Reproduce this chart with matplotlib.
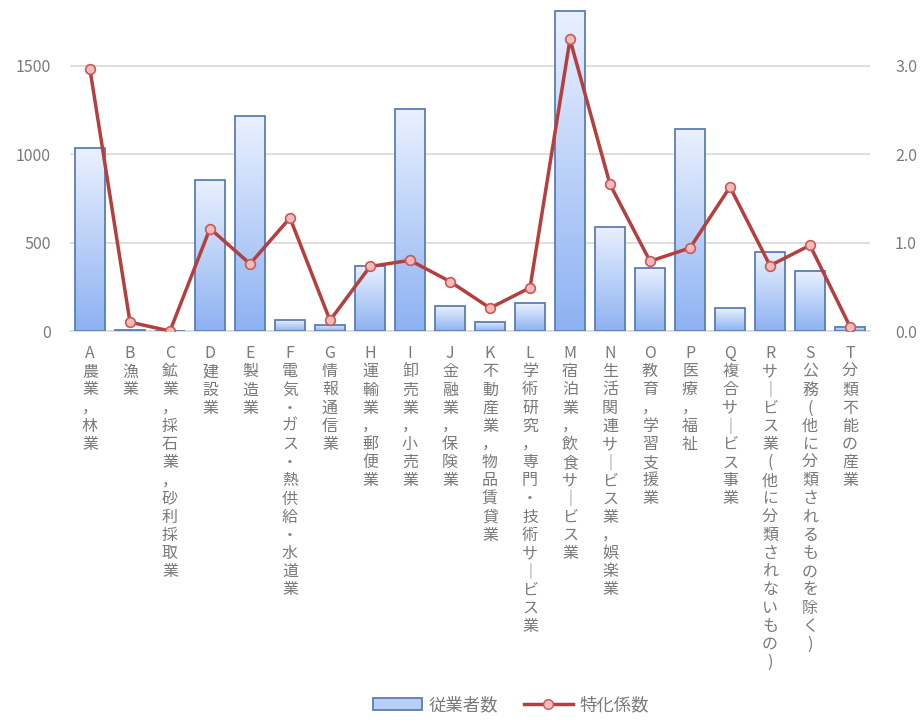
import matplotlib.pyplot as plt
import numpy as np
from matplotlib.colors import LinearSegmentedColormap
from matplotlib.lines import Line2D
from matplotlib.patches import Patch

plt.rcParams['font.family'] = ['Noto Sans CJK JP', 'DejaVu Sans']

# --- datos ---
letters = ['A', 'B', 'C', 'D', 'E', 'F', 'G', 'H', 'I', 'J',
           'K', 'L', 'M', 'N', 'O', 'P', 'Q', 'R', 'S', 'T']
industries = [
    '農業，林業', '漁業', '鉱業，採石業，砂利採取業', '建設業', '製造業',
    '電気・ガス・熱供給・水道業', '情報通信業', '運輸業，郵便業', '卸売業，小売業',
    '金融業，保険業', '不動産業，物品賃貸業', '学術研究，専門・技術サービス業',
    '宿泊業，飲食サービス業', '生活関連サービス業，娯楽業', '教育，学習支援業',
    '医療，福祉', '複合サービス事業', 'サービス業(他に分類されないもの)',
    '公務(他に分類されるものを除く)', '分類不能の産業',
]
workers = [1035, 5, 0, 855, 1215, 62, 35, 368, 1255, 141,
           51, 158, 1810, 589, 357, 1143, 130, 447, 340, 25]
coef = [2.96, 0.10, 0.00, 1.16, 0.76, 1.28, 0.12, 0.73, 0.80, 0.56,
        0.26, 0.49, 3.30, 1.66, 0.79, 0.94, 1.63, 0.74, 0.97, 0.05]

x = np.arange(len(letters))
grey = '#7a7a7a'

fig = plt.figure(figsize=(9.21, 7.26), dpi=100)
ax = fig.add_axes([70 / 921, 1 - 331 / 726, 800 / 921, 331 / 726])

# barras con degradado
cmap = LinearSegmentedColormap.from_list('g', ['#8db2f2', '#eaf1ff'])
grad = np.linspace(0, 1, 256).reshape(-1, 1)
bars = ax.bar(x, workers, width=0.74, facecolor='none',
              edgecolor='#5b7db5', linewidth=1.3, zorder=3)
for b in bars:
    h = b.get_height()
    if h <= 0:
        continue
    x0 = b.get_x()
    im = ax.imshow(grad, extent=[x0, x0 + b.get_width(), 0, h], origin='lower',
                   aspect='auto', cmap=cmap, zorder=2)
    im.set_clip_path(b)

ax.set_xlim(-0.5, 19.5)
ax.set_ylim(0, 1873)
ax.set_yticks([0, 500, 1000, 1500])
ax.grid(axis='y', color='#d9d9d9', linewidth=1.2, zorder=0)
for s in ['top', 'right', 'left']:
    ax.spines[s].set_visible(False)
ax.spines['bottom'].set_color('#d9d9d9')
ax.spines['bottom'].set_linewidth(1.2)
ax.tick_params(axis='y', length=0, pad=14, labelsize=11.5, labelcolor=grey)
ax.tick_params(axis='x', length=0)
ax.set_xticks(x)
ax.set_xticklabels([])

# etiquetas verticales
for i, (l, name) in enumerate(zip(letters, industries)):
    txt = l + name.replace('ー', '｜')
    ax.text(i, -80, '\n'.join(txt), ha='center', va='top', fontsize=11.5,
            color=grey, linespacing=1.09)

# eje derecho
ax2 = ax.twinx()
ax2.plot(x, coef, color='#b43f3f', linewidth=2.5, marker='o', markersize=7,
         markerfacecolor='#f6b9b9', markeredgecolor='#c45a5a',
         markeredgewidth=1.2, zorder=5)
ax2.set_ylim(0, 1873 / 1500 * 3.0)
ax2.set_yticks([0, 1, 2, 3])
ax2.set_yticklabels(['0.0', '1.0', '2.0', '3.0'])
for s in ax2.spines.values():
    s.set_visible(False)
ax2.tick_params(axis='y', length=0, pad=18, labelsize=11.5, labelcolor=grey)

# leyenda
handles = [
    Patch(facecolor='#b9cff7', edgecolor='#5b7db5', linewidth=1.3, label='従業者数'),
    Line2D([], [], color='#b43f3f', linewidth=2.5, marker='o', markersize=7,
           markerfacecolor='#f6b9b9', markeredgecolor='#c45a5a', label='特化係数'),
]
leg = fig.legend(handles=handles, loc='lower center', bbox_to_anchor=(0.555, -0.005),
                 ncol=2, frameon=False, fontsize=12.5, handlelength=2.8,
                 columnspacing=1.5, handletextpad=0.4)
for t in leg.get_texts():
    t.set_color(grey)

fig.savefig('out.png', dpi=100)
